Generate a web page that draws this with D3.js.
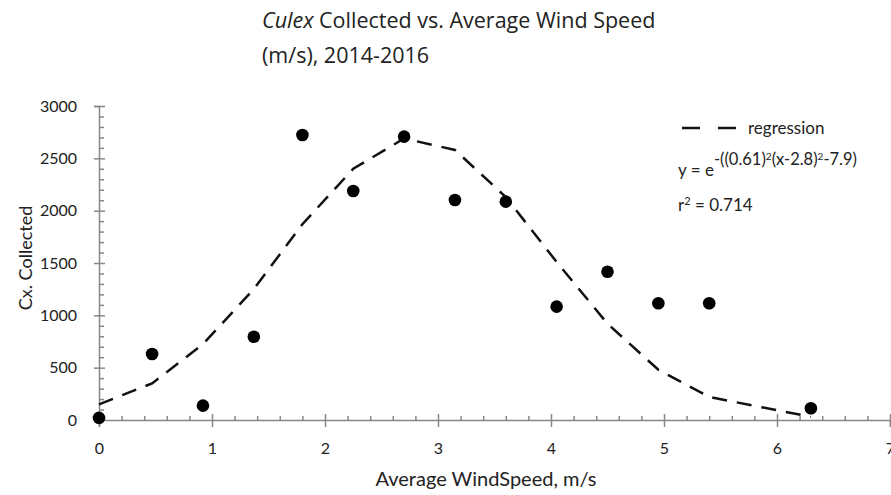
<!DOCTYPE html>
<html>
<head>
<meta charset="utf-8">
<script src="https://cdn.jsdelivr.net/npm/d3@7"></script>
<style>
  body { margin: 0; background: #fff; }
  svg { display: block; }
  text { font-family: Lato, "Open Sans", sans-serif; fill: #222; }
</style>
</head>
<body>
<div id="chart"></div>
<script>
var windSpeed = [0, 0.47, 0.92, 1.37, 1.80, 2.25, 2.70, 3.15, 3.60, 4.05, 4.50, 4.95, 5.40, 6.30];
var culexCount = [20, 630, 137, 796, 2723, 2188, 2707, 2102, 2086, 1083, 1417, 1115, 1115, 112];
// regression curve as drawn (same x positions)
var regressionX = [0, 0.47, 0.92, 1.37, 1.80, 2.25, 2.70, 3.15, 3.60, 4.05, 4.50, 4.95, 5.40, 6.30];
var regressionY = [150, 350, 725, 1250, 1870, 2400, 2690, 2580, 2130, 1510, 920, 480, 220, 30];
var xTicks = [0, 1, 2, 3, 4, 5, 6, 7];
var yTicks = [0, 500, 1000, 1500, 2000, 2500, 3000];

var width = 891, height = 495;

var svg = d3.select("#chart").append("svg")
	.attr("width", width)
	.attr("height", height);

var x = d3.scaleLinear().domain([0, 7]).range([99, 890]);
var y = d3.scaleLinear().domain([0, 3000]).range([420, 106]);

var yMinor = d3.range(0, 3001, 100).filter(function (d) { return d % 500 != 0; });
var xMinor = d3.range(0, 36).map(function (i) { return i * 0.2; }).filter(function (d) { return Math.abs(d - Math.round(d)) > 0.01; });

// minor ticks
svg.append("g")
	.attr("transform", "translate(" + x(0) + ",0)")
	.call(d3.axisRight(y).tickValues(yMinor).tickSize(5).tickFormat(""))
	.call(function (g) { g.select(".domain").remove(); });

svg.append("g")
	.attr("transform", "translate(0," + y(0) + ")")
	.call(d3.axisTop(x).tickValues(xMinor).tickSize(4).tickFormat(""))
	.call(function (g) { g.select(".domain").remove(); });

// y axis
var yAxis = svg.append("g")
	.attr("transform", "translate(" + x(0) + ",0)")
	.call(d3.axisLeft(y).tickValues(yTicks).tickFormat(d3.format("d"))
		.tickSizeOuter(0).tickSize(5).tickPadding(17));
yAxis.selectAll(".tick line").attr("x1", 6);
yAxis.selectAll("text").style("font-size", "16px");

// x axis
var xAxis = svg.append("g")
	.attr("transform", "translate(0," + y(0) + ")")
	.call(d3.axisBottom(x).tickValues(xTicks).tickFormat(d3.format("d"))
		.tickSizeOuter(0).tickSize(7).tickPadding(16));
xAxis.selectAll(".tick line").attr("y1", -6);
xAxis.selectAll("text").style("font-size", "16px");

svg.selectAll(".domain, .tick line").attr("stroke", "#888").attr("stroke-width", 1.5);

// regression line
var line = d3.line()
	.x(function (d) { return x(d[0]); })
	.y(function (d) { return y(d[1]); });

svg.append("path")
	.datum(d3.zip(regressionX, regressionY))
	.attr("d", line)
	.attr("fill", "none")
	.attr("stroke", "#111")
	.attr("stroke-width", 2.5)
	.attr("stroke-dasharray", "15,10");

// points
svg.selectAll("circle.pt")
	.data(d3.zip(windSpeed, culexCount))
	.enter().append("circle")
	.attr("class", "pt")
	.attr("cx", function (d) { return x(d[0]); })
	.attr("cy", function (d) { return y(d[1]); })
	.attr("r", 6.3)
	.attr("fill", "#000");

// title
var title = svg.append("text")
	.attr("x", 262)
	.attr("y", 28)
	.style("font-family", "'Open Sans', sans-serif")
	.style("font-size", "21.5px");
title.append("tspan").style("font-style", "italic").text("Culex");
title.append("tspan").text(" Collected vs. Average Wind Speed");
svg.append("text")
	.attr("x", 262)
	.attr("y", 63)
	.style("font-family", "'Open Sans', sans-serif")
	.style("font-size", "21.5px")
	.text("(m/s), 2014-2016");

// axis titles
svg.append("text")
	.attr("x", 486)
	.attr("y", 486)
	.attr("text-anchor", "middle")
	.style("font-size", "20px")
	.text("Average WindSpeed, m/s");

svg.append("text")
	.attr("transform", "translate(32,258) rotate(-90)")
	.attr("text-anchor", "middle")
	.style("font-size", "18px")
	.text("Cx. Collected");

// legend
svg.append("line")
	.attr("x1", 682).attr("x2", 737)
	.attr("y1", 128).attr("y2", 128)
	.attr("stroke", "#111")
	.attr("stroke-width", 2.5)
	.attr("stroke-dasharray", "18,18");
svg.append("text")
	.attr("x", 748)
	.attr("y", 134)
	.style("font-size", "17px")
	.text("regression");

var eq = svg.append("text")
	.attr("x", 678)
	.attr("y", 176)
	.style("font-size", "17px");
eq.append("tspan").text("y = e");
eq.append("tspan").attr("dy", -11).style("font-size", "16.5px").text("-((0.61)");
eq.append("tspan").attr("dy", -5).style("font-size", "10px").text("2");
eq.append("tspan").attr("dy", 5).style("font-size", "16.5px").text("(x-2.8)");
eq.append("tspan").attr("dy", -5).style("font-size", "10px").text("2");
eq.append("tspan").attr("dy", 5).style("font-size", "16.5px").text("-7.9)");

var r2 = svg.append("text")
	.attr("x", 678)
	.attr("y", 211)
	.style("font-size", "17px");
r2.append("tspan").text("r");
r2.append("tspan").attr("dy", -6).style("font-size", "11px").text("2");
r2.append("tspan").attr("dy", 6).text(" = 0.714");
</script>
</body>
</html>
